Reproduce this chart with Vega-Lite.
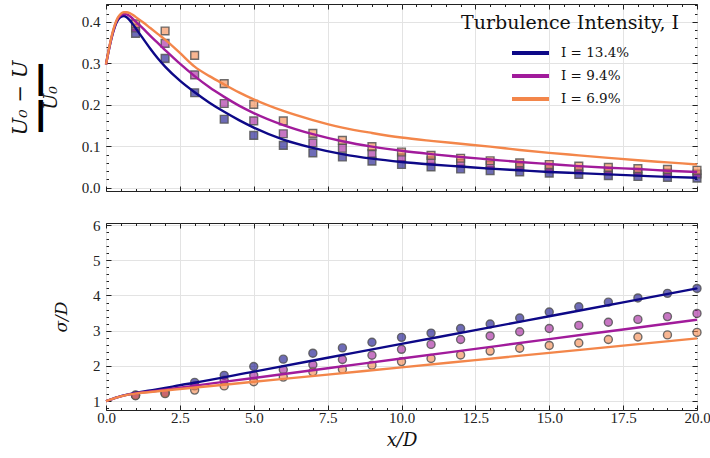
{
  "$schema": "https://vega.github.io/schema/vega-lite/v6.json",
  "padding": {"left": 8, "top": 3, "right": 5, "bottom": 5},
  "background": "white",
  "spacing": 20,
  "config": {
    "view": {"stroke": "#222", "strokeWidth": 1},
    "axis": {
      "labelFont": "Liberation Serif", "labelFontSize": 15, "labelColor": "#222", "labelFlush": false,
      "tickColor": "#222", "tickWidth": 1, "domain": false,
      "gridColor": "#e3e3e3", "gridWidth": 1,
      "titleFont": "DejaVu Serif", "titleFontStyle": "italic", "titleFontWeight": "normal", "titleColor": "#111",
      "minExtent": 0, "maxExtent": 300
    }
  },
  "resolve": {"scale": {"color": "independent", "fill": "independent"}},
  "datasets": {
    "deficit_model": [
      {"x":0,"s":"I = 13.4%","v":0.297},{"x":0.1,"s":"I = 13.4%","v":0.333},{"x":0.2,"s":"I = 13.4%","v":0.364},{"x":0.3,"s":"I = 13.4%","v":0.388},{"x":0.4,"s":"I = 13.4%","v":0.404},{"x":0.5,"s":"I = 13.4%","v":0.412},{"x":0.6,"s":"I = 13.4%","v":0.414},{"x":0.7,"s":"I = 13.4%","v":0.411},{"x":0.8,"s":"I = 13.4%","v":0.404},{"x":0.9,"s":"I = 13.4%","v":0.395},{"x":1,"s":"I = 13.4%","v":0.385},{"x":1.25,"s":"I = 13.4%","v":0.36},{"x":1.5,"s":"I = 13.4%","v":0.335},{"x":1.75,"s":"I = 13.4%","v":0.312},{"x":2,"s":"I = 13.4%","v":0.292},{"x":2.5,"s":"I = 13.4%","v":0.258},{"x":3,"s":"I = 13.4%","v":0.23},{"x":3.5,"s":"I = 13.4%","v":0.205},{"x":4,"s":"I = 13.4%","v":0.183},{"x":4.5,"s":"I = 13.4%","v":0.163},{"x":5,"s":"I = 13.4%","v":0.145},{"x":6,"s":"I = 13.4%","v":0.116},{"x":7,"s":"I = 13.4%","v":0.096},{"x":8,"s":"I = 13.4%","v":0.081},{"x":9,"s":"I = 13.4%","v":0.07},{"x":10,"s":"I = 13.4%","v":0.062},{"x":11,"s":"I = 13.4%","v":0.056},{"x":12,"s":"I = 13.4%","v":0.051},{"x":13,"s":"I = 13.4%","v":0.046},{"x":14,"s":"I = 13.4%","v":0.042},{"x":15,"s":"I = 13.4%","v":0.038},{"x":16,"s":"I = 13.4%","v":0.035},{"x":17,"s":"I = 13.4%","v":0.032},{"x":18,"s":"I = 13.4%","v":0.029},{"x":19,"s":"I = 13.4%","v":0.026},{"x":20,"s":"I = 13.4%","v":0.024},
      {"x":0,"s":"I = 9.4%","v":0.297},{"x":0.1,"s":"I = 9.4%","v":0.334},{"x":0.2,"s":"I = 9.4%","v":0.366},{"x":0.3,"s":"I = 9.4%","v":0.391},{"x":0.4,"s":"I = 9.4%","v":0.408},{"x":0.5,"s":"I = 9.4%","v":0.416},{"x":0.6,"s":"I = 9.4%","v":0.419},{"x":0.7,"s":"I = 9.4%","v":0.418},{"x":0.8,"s":"I = 9.4%","v":0.414},{"x":0.9,"s":"I = 9.4%","v":0.408},{"x":1,"s":"I = 9.4%","v":0.401},{"x":1.25,"s":"I = 9.4%","v":0.384},{"x":1.5,"s":"I = 9.4%","v":0.366},{"x":1.75,"s":"I = 9.4%","v":0.349},{"x":2,"s":"I = 9.4%","v":0.332},{"x":2.5,"s":"I = 9.4%","v":0.299},{"x":3,"s":"I = 9.4%","v":0.269},{"x":3.5,"s":"I = 9.4%","v":0.242},{"x":4,"s":"I = 9.4%","v":0.219},{"x":4.5,"s":"I = 9.4%","v":0.198},{"x":5,"s":"I = 9.4%","v":0.18},{"x":6,"s":"I = 9.4%","v":0.151},{"x":7,"s":"I = 9.4%","v":0.129},{"x":8,"s":"I = 9.4%","v":0.112},{"x":9,"s":"I = 9.4%","v":0.099},{"x":10,"s":"I = 9.4%","v":0.089},{"x":11,"s":"I = 9.4%","v":0.081},{"x":12,"s":"I = 9.4%","v":0.074},{"x":13,"s":"I = 9.4%","v":0.068},{"x":14,"s":"I = 9.4%","v":0.062},{"x":15,"s":"I = 9.4%","v":0.057},{"x":16,"s":"I = 9.4%","v":0.052},{"x":17,"s":"I = 9.4%","v":0.048},{"x":18,"s":"I = 9.4%","v":0.045},{"x":19,"s":"I = 9.4%","v":0.041},{"x":20,"s":"I = 9.4%","v":0.038},
      {"x":0,"s":"I = 6.9%","v":0.297},{"x":0.1,"s":"I = 6.9%","v":0.335},{"x":0.2,"s":"I = 6.9%","v":0.368},{"x":0.3,"s":"I = 6.9%","v":0.393},{"x":0.4,"s":"I = 6.9%","v":0.41},{"x":0.5,"s":"I = 6.9%","v":0.419},{"x":0.6,"s":"I = 6.9%","v":0.423},{"x":0.7,"s":"I = 6.9%","v":0.423},{"x":0.8,"s":"I = 6.9%","v":0.421},{"x":0.9,"s":"I = 6.9%","v":0.417},{"x":1,"s":"I = 6.9%","v":0.412},{"x":1.25,"s":"I = 6.9%","v":0.399},{"x":1.5,"s":"I = 6.9%","v":0.385},{"x":1.75,"s":"I = 6.9%","v":0.371},{"x":2,"s":"I = 6.9%","v":0.357},{"x":2.5,"s":"I = 6.9%","v":0.325},{"x":3,"s":"I = 6.9%","v":0.292},{"x":3.5,"s":"I = 6.9%","v":0.269},{"x":4,"s":"I = 6.9%","v":0.249},{"x":4.5,"s":"I = 6.9%","v":0.23},{"x":5,"s":"I = 6.9%","v":0.213},{"x":6,"s":"I = 6.9%","v":0.185},{"x":7,"s":"I = 6.9%","v":0.163},{"x":8,"s":"I = 6.9%","v":0.145},{"x":9,"s":"I = 6.9%","v":0.132},{"x":10,"s":"I = 6.9%","v":0.121},{"x":11,"s":"I = 6.9%","v":0.113},{"x":12,"s":"I = 6.9%","v":0.106},{"x":13,"s":"I = 6.9%","v":0.099},{"x":14,"s":"I = 6.9%","v":0.091},{"x":15,"s":"I = 6.9%","v":0.084},{"x":16,"s":"I = 6.9%","v":0.078},{"x":17,"s":"I = 6.9%","v":0.072},{"x":18,"s":"I = 6.9%","v":0.066},{"x":19,"s":"I = 6.9%","v":0.061},{"x":20,"s":"I = 6.9%","v":0.056}
    ],
    "deficit_data": [
      {"x":1,"s":"I = 13.4%","v":0.372},{"x":2,"s":"I = 13.4%","v":0.312},{"x":3,"s":"I = 13.4%","v":0.229},{"x":4,"s":"I = 13.4%","v":0.165},{"x":5,"s":"I = 13.4%","v":0.126},{"x":6,"s":"I = 13.4%","v":0.102},{"x":7,"s":"I = 13.4%","v":0.084},{"x":8,"s":"I = 13.4%","v":0.074},{"x":9,"s":"I = 13.4%","v":0.064},{"x":10,"s":"I = 13.4%","v":0.056},{"x":11,"s":"I = 13.4%","v":0.05},{"x":12,"s":"I = 13.4%","v":0.045},{"x":13,"s":"I = 13.4%","v":0.041},{"x":14,"s":"I = 13.4%","v":0.038},{"x":15,"s":"I = 13.4%","v":0.035},{"x":16,"s":"I = 13.4%","v":0.032},{"x":17,"s":"I = 13.4%","v":0.029},{"x":18,"s":"I = 13.4%","v":0.027},{"x":19,"s":"I = 13.4%","v":0.025},{"x":20,"s":"I = 13.4%","v":0.023},
      {"x":1,"s":"I = 9.4%","v":0.385},{"x":2,"s":"I = 9.4%","v":0.348},{"x":3,"s":"I = 9.4%","v":0.272},{"x":4,"s":"I = 9.4%","v":0.203},{"x":5,"s":"I = 9.4%","v":0.161},{"x":6,"s":"I = 9.4%","v":0.13},{"x":7,"s":"I = 9.4%","v":0.108},{"x":8,"s":"I = 9.4%","v":0.095},{"x":9,"s":"I = 9.4%","v":0.082},{"x":10,"s":"I = 9.4%","v":0.072},{"x":11,"s":"I = 9.4%","v":0.065},{"x":12,"s":"I = 9.4%","v":0.059},{"x":13,"s":"I = 9.4%","v":0.054},{"x":14,"s":"I = 9.4%","v":0.05},{"x":15,"s":"I = 9.4%","v":0.046},{"x":16,"s":"I = 9.4%","v":0.043},{"x":17,"s":"I = 9.4%","v":0.04},{"x":18,"s":"I = 9.4%","v":0.037},{"x":19,"s":"I = 9.4%","v":0.035},{"x":20,"s":"I = 9.4%","v":0.033},
      {"x":1,"s":"I = 6.9%","v":0.395},{"x":2,"s":"I = 6.9%","v":0.378},{"x":3,"s":"I = 6.9%","v":0.319},{"x":4,"s":"I = 6.9%","v":0.251},{"x":5,"s":"I = 6.9%","v":0.201},{"x":6,"s":"I = 6.9%","v":0.161},{"x":7,"s":"I = 6.9%","v":0.131},{"x":8,"s":"I = 6.9%","v":0.114},{"x":9,"s":"I = 6.9%","v":0.099},{"x":10,"s":"I = 6.9%","v":0.086},{"x":11,"s":"I = 6.9%","v":0.078},{"x":12,"s":"I = 6.9%","v":0.071},{"x":13,"s":"I = 6.9%","v":0.065},{"x":14,"s":"I = 6.9%","v":0.06},{"x":15,"s":"I = 6.9%","v":0.056},{"x":16,"s":"I = 6.9%","v":0.052},{"x":17,"s":"I = 6.9%","v":0.049},{"x":18,"s":"I = 6.9%","v":0.046},{"x":19,"s":"I = 6.9%","v":0.044},{"x":20,"s":"I = 6.9%","v":0.042}
    ],
    "sigma_model": [
      {"x":0,"s":"I = 13.4%","v":1.0},{"x":0.25,"s":"I = 13.4%","v":1.07},{"x":0.5,"s":"I = 13.4%","v":1.14},{"x":0.75,"s":"I = 13.4%","v":1.19},{"x":1,"s":"I = 13.4%","v":1.23},{"x":1.5,"s":"I = 13.4%","v":1.3},{"x":2,"s":"I = 13.4%","v":1.37},{"x":2.5,"s":"I = 13.4%","v":1.45},{"x":3,"s":"I = 13.4%","v":1.52},{"x":5,"s":"I = 13.4%","v":1.835},{"x":7.5,"s":"I = 13.4%","v":2.229},{"x":10,"s":"I = 13.4%","v":2.623},{"x":12.5,"s":"I = 13.4%","v":3.016},{"x":15,"s":"I = 13.4%","v":3.41},{"x":17.5,"s":"I = 13.4%","v":3.804},{"x":20,"s":"I = 13.4%","v":4.2},
      {"x":0,"s":"I = 9.4%","v":1.0},{"x":0.25,"s":"I = 9.4%","v":1.07},{"x":0.5,"s":"I = 9.4%","v":1.13},{"x":0.75,"s":"I = 9.4%","v":1.18},{"x":1,"s":"I = 9.4%","v":1.22},{"x":1.5,"s":"I = 9.4%","v":1.27},{"x":2,"s":"I = 9.4%","v":1.32},{"x":2.5,"s":"I = 9.4%","v":1.38},{"x":5,"s":"I = 9.4%","v":1.656},{"x":7.5,"s":"I = 9.4%","v":1.932},{"x":10,"s":"I = 9.4%","v":2.207},{"x":12.5,"s":"I = 9.4%","v":2.483},{"x":15,"s":"I = 9.4%","v":2.759},{"x":17.5,"s":"I = 9.4%","v":3.034},{"x":20,"s":"I = 9.4%","v":3.31},
      {"x":0,"s":"I = 6.9%","v":1.0},{"x":0.25,"s":"I = 6.9%","v":1.07},{"x":0.5,"s":"I = 6.9%","v":1.13},{"x":0.75,"s":"I = 6.9%","v":1.18},{"x":1,"s":"I = 6.9%","v":1.21},{"x":1.5,"s":"I = 6.9%","v":1.255},{"x":2,"s":"I = 6.9%","v":1.3},{"x":2.5,"s":"I = 6.9%","v":1.34},{"x":5,"s":"I = 6.9%","v":1.546},{"x":7.5,"s":"I = 6.9%","v":1.752},{"x":10,"s":"I = 6.9%","v":1.957},{"x":12.5,"s":"I = 6.9%","v":2.163},{"x":15,"s":"I = 6.9%","v":2.369},{"x":17.5,"s":"I = 6.9%","v":2.574},{"x":20,"s":"I = 6.9%","v":2.78}
    ],
    "sigma_data": [
      {"x":1,"s":"I = 13.4%","v":1.17},{"x":2,"s":"I = 13.4%","v":1.25},{"x":3,"s":"I = 13.4%","v":1.53},{"x":4,"s":"I = 13.4%","v":1.73},{"x":5,"s":"I = 13.4%","v":1.98},{"x":6,"s":"I = 13.4%","v":2.19},{"x":7,"s":"I = 13.4%","v":2.36},{"x":8,"s":"I = 13.4%","v":2.51},{"x":9,"s":"I = 13.4%","v":2.67},{"x":10,"s":"I = 13.4%","v":2.81},{"x":11,"s":"I = 13.4%","v":2.93},{"x":12,"s":"I = 13.4%","v":3.06},{"x":13,"s":"I = 13.4%","v":3.19},{"x":14,"s":"I = 13.4%","v":3.36},{"x":15,"s":"I = 13.4%","v":3.53},{"x":16,"s":"I = 13.4%","v":3.68},{"x":17,"s":"I = 13.4%","v":3.81},{"x":18,"s":"I = 13.4%","v":3.93},{"x":19,"s":"I = 13.4%","v":4.06},{"x":20,"s":"I = 13.4%","v":4.2},
      {"x":1,"s":"I = 9.4%","v":1.16},{"x":2,"s":"I = 9.4%","v":1.23},{"x":3,"s":"I = 9.4%","v":1.43},{"x":4,"s":"I = 9.4%","v":1.59},{"x":5,"s":"I = 9.4%","v":1.73},{"x":6,"s":"I = 9.4%","v":1.89},{"x":7,"s":"I = 9.4%","v":2.03},{"x":8,"s":"I = 9.4%","v":2.18},{"x":9,"s":"I = 9.4%","v":2.3},{"x":10,"s":"I = 9.4%","v":2.47},{"x":11,"s":"I = 9.4%","v":2.61},{"x":12,"s":"I = 9.4%","v":2.75},{"x":13,"s":"I = 9.4%","v":2.85},{"x":14,"s":"I = 9.4%","v":2.97},{"x":15,"s":"I = 9.4%","v":3.06},{"x":16,"s":"I = 9.4%","v":3.15},{"x":17,"s":"I = 9.4%","v":3.24},{"x":18,"s":"I = 9.4%","v":3.32},{"x":19,"s":"I = 9.4%","v":3.4},{"x":20,"s":"I = 9.4%","v":3.49},
      {"x":1,"s":"I = 6.9%","v":1.15},{"x":2,"s":"I = 6.9%","v":1.21},{"x":3,"s":"I = 6.9%","v":1.31},{"x":4,"s":"I = 6.9%","v":1.43},{"x":5,"s":"I = 6.9%","v":1.55},{"x":6,"s":"I = 6.9%","v":1.68},{"x":7,"s":"I = 6.9%","v":1.83},{"x":8,"s":"I = 6.9%","v":1.9},{"x":9,"s":"I = 6.9%","v":2.02},{"x":10,"s":"I = 6.9%","v":2.12},{"x":11,"s":"I = 6.9%","v":2.21},{"x":12,"s":"I = 6.9%","v":2.31},{"x":13,"s":"I = 6.9%","v":2.42},{"x":14,"s":"I = 6.9%","v":2.5},{"x":15,"s":"I = 6.9%","v":2.58},{"x":16,"s":"I = 6.9%","v":2.65},{"x":17,"s":"I = 6.9%","v":2.75},{"x":18,"s":"I = 6.9%","v":2.82},{"x":19,"s":"I = 6.9%","v":2.88},{"x":20,"s":"I = 6.9%","v":2.95}
    ]
  },
  "vconcat": [
    {
      "width": 591, "height": 187,
      "resolve": {"axis": {"x": "independent", "y": "independent"}},
      "layer": [
        {
          "data": {"name": "deficit_data"},
          "mark": {"type": "point", "shape": "square", "filled": true, "size": 60, "fillOpacity": 0.6, "stroke": "#555", "strokeWidth": 1.4, "strokeOpacity": 0.85},
          "encoding": {
            "x": {"field": "x", "type": "quantitative", "scale": {"domain": [0, 20], "nice": false, "zero": false},
                  "axis": {"orient": "bottom", "values": [0,2.5,5,7.5,10,12.5,15,17.5,20], "labels": false, "grid": true, "tickSize": -5, "title": null}},
            "y": {"field": "v", "type": "quantitative", "scale": {"domain": [-0.008, 0.443], "nice": false, "zero": false},
                  "axis": {"orient": "left", "values": [0,0.1,0.2,0.3,0.4], "format": ".1f", "grid": true, "tickSize": -5, "labelPadding": 11, "labelFont": "Liberation Serif", "labelFontSize": 15, "labelColor": "#222", "title": "U₀", "titleFont": "DejaVu Serif", "titleFontStyle": "italic", "titleFontWeight": "normal", "titleColor": "#111", "titleFontSize": 19, "titlePadding": 21}},
            "fill": {"field": "s", "type": "nominal", "sort": null, "scale": {"domain": ["I = 6.9%", "I = 9.4%", "I = 13.4%"], "range": ["#f3864a", "#a11b9b", "#0d0887"]}, "legend": null}
          }
        },
        {
          "data": {"name": "deficit_model"},
          "mark": {"type": "line", "strokeWidth": 2.4, "interpolate": "monotone"},
          "encoding": {
            "x": {"field": "x", "type": "quantitative", "scale": {"domain": [0, 20], "nice": false, "zero": false},
                  "axis": {"orient": "top", "values": [0,2.5,5,7.5,10,12.5,15,17.5,20], "labels": false, "grid": false, "tickSize": -5, "title": null}},
            "y": {"field": "v", "type": "quantitative", "scale": {"domain": [-0.008, 0.443], "nice": false, "zero": false},
                  "axis": {"orient": "right", "values": [0,0.1,0.2,0.3,0.4], "labels": false, "grid": false, "tickSize": -5, "title": null}},
            "color": {"field": "s", "type": "nominal", "sort": null, "scale": {"domain": ["I = 13.4%", "I = 9.4%", "I = 6.9%"], "range": ["#0d0887", "#a11b9b", "#f3864a"]},
                      "legend": {"orient": "none", "legendX": 355, "legendY": 10, "title": "Turbulence Intensity, I", "titleLimit": 400, "titleFont": "DejaVu Serif", "titleFontSize": 19, "titleFontWeight": "normal", "titleColor": "#111", "titlePadding": 12, "labelFont": "DejaVu Serif", "labelFontSize": 13.5, "labelColor": "#111", "labelOffset": 10, "labelLimit": 200, "symbolType": "stroke", "symbolSize": 1369, "symbolStrokeWidth": 4, "symbolOffset": 49, "clipHeight": 16, "rowPadding": 7, "padding": 0}}
          }
        },
        {
          "data": {"name": "deficit_data"},
          "mark": {"type": "point", "opacity": 0},
          "encoding": {
            "x": {"field": "x", "type": "quantitative", "scale": {"domain": [0, 20], "nice": false, "zero": false},
                  "axis": {"orient": "bottom", "values": [0,0.5,1,1.5,2,2.5,3,3.5,4,4.5,5,5.5,6,6.5,7,7.5,8,8.5,9,9.5,10,10.5,11,11.5,12,12.5,13,13.5,14,14.5,15,15.5,16,16.5,17,17.5,18,18.5,19,19.5,20], "labels": false, "grid": false, "tickSize": -2.5, "title": null}},
            "y": {"field": "v", "type": "quantitative", "scale": {"domain": [-0.008, 0.443], "nice": false, "zero": false},
                  "axis": {"orient": "left", "values": [0,0.02,0.04,0.06,0.08,0.1,0.12,0.14,0.16,0.18,0.2,0.22,0.24,0.26,0.28,0.3,0.32,0.34,0.36,0.38,0.4,0.42,0.44], "labels": false, "grid": false, "tickSize": -2.5, "title": "——", "titleFont": "DejaVu Sans", "titleColor": "black", "titleFontStyle": "normal", "titleFontWeight": "bold", "titleFontSize": 36, "titlePadding": 47}}
          }
        },
        {
          "data": {"name": "deficit_data"},
          "mark": {"type": "point", "opacity": 0},
          "encoding": {
            "x": {"field": "x", "type": "quantitative", "scale": {"domain": [0, 20], "nice": false, "zero": false},
                  "axis": {"orient": "top", "values": [0,0.5,1,1.5,2,2.5,3,3.5,4,4.5,5,5.5,6,6.5,7,7.5,8,8.5,9,9.5,10,10.5,11,11.5,12,12.5,13,13.5,14,14.5,15,15.5,16,16.5,17,17.5,18,18.5,19,19.5,20], "labels": false, "grid": false, "tickSize": -2.5, "title": null}},
            "y": {"field": "v", "type": "quantitative", "scale": {"domain": [-0.008, 0.443], "nice": false, "zero": false},
                  "axis": {"orient": "right", "values": [0,0.02,0.04,0.06,0.08,0.1,0.12,0.14,0.16,0.18,0.2,0.22,0.24,0.26,0.28,0.3,0.32,0.34,0.36,0.38,0.4,0.42,0.44], "labels": false, "grid": false, "tickSize": -2.5, "title": null}}
          }
        },
        {
          "data": {"name": "deficit_data"},
          "mark": {"type": "point", "opacity": 0},
          "encoding": {
            "x": {"field": "x", "type": "quantitative", "scale": {"domain": [0, 20], "nice": false, "zero": false}, "axis": null},
            "y": {"field": "v", "type": "quantitative", "scale": {"domain": [-0.008, 0.443], "nice": false, "zero": false},
                  "axis": {"orient": "left", "ticks": false, "labels": false, "grid": false, "title": "U₀ − U", "titleFont": "DejaVu Serif", "titleFontStyle": "italic", "titleFontWeight": "normal", "titleColor": "#111", "titleFontSize": 21, "titlePadding": 76}}
          }
        }
      ]
    },
    {
      "width": 591, "height": 187,
      "resolve": {"axis": {"x": "independent", "y": "independent"}},
      "layer": [
        {
          "data": {"name": "sigma_data"},
          "mark": {"type": "point", "shape": "circle", "filled": true, "size": 64, "fillOpacity": 0.6, "stroke": "#555", "strokeWidth": 1.4, "strokeOpacity": 0.85},
          "encoding": {
            "x": {"field": "x", "type": "quantitative", "scale": {"domain": [0, 20], "nice": false, "zero": false},
                  "axis": {"orient": "bottom", "values": [0,2.5,5,7.5,10,12.5,15,17.5,20], "format": ".1f", "grid": true, "tickSize": -5, "labelPadding": 5, "labelFlush": false, "labelFont": "Liberation Serif", "labelFontSize": 15, "labelColor": "#222", "title": "x/D", "titleFont": "DejaVu Serif", "titleFontStyle": "italic", "titleFontWeight": "normal", "titleColor": "#111", "titleFontSize": 18, "titlePadding": 6}},
            "y": {"field": "v", "type": "quantitative", "scale": {"domain": [0.745, 6.06], "nice": false, "zero": false},
                  "axis": {"orient": "left", "values": [1,2,3,4,5,6], "format": "d", "grid": true, "tickSize": -5, "labelPadding": 11, "labelFont": "Liberation Serif", "labelFontSize": 15, "labelColor": "#222", "title": "σ/D", "titleFont": "DejaVu Serif", "titleFontStyle": "italic", "titleFontWeight": "normal", "titleColor": "#111", "titleFontSize": 17, "titlePadding": 22}},
            "fill": {"field": "s", "type": "nominal", "sort": null, "scale": {"domain": ["I = 6.9%", "I = 9.4%", "I = 13.4%"], "range": ["#f3864a", "#a11b9b", "#0d0887"]}, "legend": null}
          }
        },
        {
          "data": {"name": "sigma_model"},
          "mark": {"type": "line", "strokeWidth": 2.4, "interpolate": "monotone"},
          "encoding": {
            "x": {"field": "x", "type": "quantitative", "scale": {"domain": [0, 20], "nice": false, "zero": false},
                  "axis": {"orient": "top", "values": [0,2.5,5,7.5,10,12.5,15,17.5,20], "labels": false, "grid": false, "tickSize": -5, "title": null}},
            "y": {"field": "v", "type": "quantitative", "scale": {"domain": [0.745, 6.06], "nice": false, "zero": false},
                  "axis": {"orient": "right", "values": [1,2,3,4,5,6], "labels": false, "grid": false, "tickSize": -5, "title": null}},
            "color": {"field": "s", "type": "nominal", "sort": null, "scale": {"domain": ["I = 13.4%", "I = 9.4%", "I = 6.9%"], "range": ["#0d0887", "#a11b9b", "#f3864a"]}, "legend": null}
          }
        },
        {
          "data": {"name": "sigma_data"},
          "mark": {"type": "point", "opacity": 0},
          "encoding": {
            "x": {"field": "x", "type": "quantitative", "scale": {"domain": [0, 20], "nice": false, "zero": false},
                  "axis": {"orient": "bottom", "values": [0,0.5,1,1.5,2,2.5,3,3.5,4,4.5,5,5.5,6,6.5,7,7.5,8,8.5,9,9.5,10,10.5,11,11.5,12,12.5,13,13.5,14,14.5,15,15.5,16,16.5,17,17.5,18,18.5,19,19.5,20], "labels": false, "grid": false, "tickSize": -2.5, "title": null}},
            "y": {"field": "v", "type": "quantitative", "scale": {"domain": [0.745, 6.06], "nice": false, "zero": false},
                  "axis": {"orient": "left", "values": [0.8,1,1.2,1.4,1.6,1.8,2,2.2,2.4,2.6,2.8,3,3.2,3.4,3.6,3.8,4,4.2,4.4,4.6,4.8,5,5.2,5.4,5.6,5.8,6], "labels": false, "grid": false, "tickSize": -2.5, "title": null}}
          }
        },
        {
          "data": {"name": "sigma_data"},
          "mark": {"type": "point", "opacity": 0},
          "encoding": {
            "x": {"field": "x", "type": "quantitative", "scale": {"domain": [0, 20], "nice": false, "zero": false},
                  "axis": {"orient": "top", "values": [0,0.5,1,1.5,2,2.5,3,3.5,4,4.5,5,5.5,6,6.5,7,7.5,8,8.5,9,9.5,10,10.5,11,11.5,12,12.5,13,13.5,14,14.5,15,15.5,16,16.5,17,17.5,18,18.5,19,19.5,20], "labels": false, "grid": false, "tickSize": -2.5, "title": null}},
            "y": {"field": "v", "type": "quantitative", "scale": {"domain": [0.745, 6.06], "nice": false, "zero": false},
                  "axis": {"orient": "right", "values": [0.8,1,1.2,1.4,1.6,1.8,2,2.2,2.4,2.6,2.8,3,3.2,3.4,3.6,3.8,4,4.2,4.4,4.6,4.8,5,5.2,5.4,5.6,5.8,6], "labels": false, "grid": false, "tickSize": -2.5, "title": null}}
          }
        }
      ]
    }
  ]
}
